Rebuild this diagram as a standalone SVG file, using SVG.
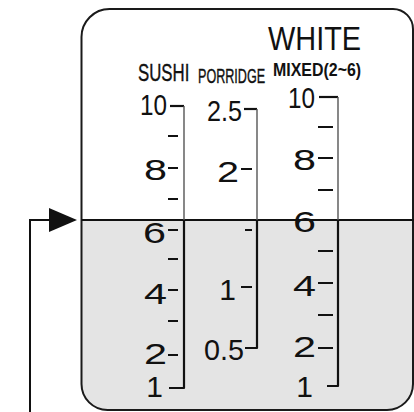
<svg xmlns="http://www.w3.org/2000/svg" width="414" height="412" viewBox="0 0 414 412">
<style>
.num{font-family:"Liberation Sans",Arial,sans-serif;font-size:30px;fill:#111;text-anchor:end}
.hd{font-family:"Liberation Sans",Arial,sans-serif;fill:#111}
.tick{stroke:#111;stroke-width:2.2;fill:none}
.up{stroke:#555;stroke-width:1.4;fill:none}
.dn{stroke:#111;stroke-width:2.2;fill:none;stroke-linejoin:round}
.bd{stroke:#1a1a1a;stroke-width:2;fill:none}
</style>
<defs>
<marker id="tri" markerWidth="28" markerHeight="24" refX="0" refY="12" orient="auto" markerUnits="userSpaceOnUse">
<path d="M0,0 L28,12 L0,24 Z" fill="#111"/>
</marker>
</defs>
<rect width="414" height="412" fill="#fff"/>
<g id="panel">
<path d="M81.5,220 L413,220 L413,384 A26,26 0 0 1 387,410 L107.5,410 A26,26 0 0 1 81.5,384 Z" fill="#e4e4e4"/>
<path class="bd" d="M81.5,37 A28,28 0 0 1 109.5,9 L393,9 A20,20 0 0 1 413,29 L413,384 A26,26 0 0 1 387,410 L107.5,410 A26,26 0 0 1 81.5,384 Z"/>
<line x1="81.5" y1="220" x2="414" y2="220" stroke="#111" stroke-width="2"/>
</g>
<g id="headings">
<text class="hd" transform="translate(268,50) scale(0.85,1)" font-size="34">WHITE</text>
<text class="hd" transform="translate(273,76) scale(0.84,1)" font-size="19" font-weight="bold">MIXED(2~6)</text>
<text class="hd" transform="translate(138,81) scale(0.7,1)" font-size="24" stroke="#111" stroke-width="0.4">SUSHI</text>
<text class="hd" transform="translate(198,83) scale(0.6,1)" font-size="21" stroke="#111" stroke-width="0.4">PORRIDGE</text>
</g>
<g id="sushi">
<path class="tick" d="M170,106 H184"/>
<path class="up" d="M184,106 V220"/>
<path class="dn" d="M184,220 V388 H169"/>
<path class="tick" d="M168,136 H178 M168,168 H178 M168,199 H178 M168,230 H178 M168,259 H178 M168,290 H178 M168,321 H178 M168,355 H178"/>
<text class="num" x="167" y="115" textLength="27" lengthAdjust="spacingAndGlyphs">10</text>
<text class="num" x="167" y="180" textLength="23" lengthAdjust="spacingAndGlyphs">8</text>
<text class="num" x="166" y="243" textLength="23" lengthAdjust="spacingAndGlyphs">6</text>
<text class="num" x="167" y="304" textLength="23" lengthAdjust="spacingAndGlyphs">4</text>
<text class="num" x="167" y="364" textLength="23" lengthAdjust="spacingAndGlyphs">2</text>
<text class="num" x="163" y="397">1</text>
</g>
<g id="porridge">
<path class="tick" d="M244,109 H257"/>
<path class="up" d="M257,109 V220"/>
<path class="dn" d="M257,220 V348 H245"/>
<path class="tick" d="M241,169 H252 M245,230 H252 M241,287 H252"/>
<text class="num" x="242" y="121" textLength="35" lengthAdjust="spacingAndGlyphs">2.5</text>
<text class="num" x="239" y="182" textLength="22" lengthAdjust="spacingAndGlyphs">2</text>
<text class="num" x="236" y="300">1</text>
<text class="num" x="244" y="360" textLength="40" lengthAdjust="spacingAndGlyphs">0.5</text>
</g>
<g id="white">
<path class="tick" d="M319,97 H338"/>
<path class="up" d="M338,97 V220"/>
<path class="dn" d="M338,220 V386 H327"/>
<path class="tick" d="M318,127 H333 M318,158 H333 M318,190 H333 M318,251 H333 M318,283 H333 M318,315 H333 M318,348 H333"/>
<text class="num" x="315" y="108" textLength="27" lengthAdjust="spacingAndGlyphs">10</text>
<text class="num" x="316" y="170" textLength="23" lengthAdjust="spacingAndGlyphs">8</text>
<text class="num" x="316" y="232" textLength="23" lengthAdjust="spacingAndGlyphs">6</text>
<text class="num" x="316" y="296" textLength="23" lengthAdjust="spacingAndGlyphs">4</text>
<text class="num" x="316" y="357" textLength="23" lengthAdjust="spacingAndGlyphs">2</text>
<text class="num" x="313" y="397">1</text>
</g>
<g id="connectors">
<path d="M30,412 V220 H49" fill="none" stroke="#111" stroke-width="2" marker-end="url(#tri)"/>
</g>
</svg>
